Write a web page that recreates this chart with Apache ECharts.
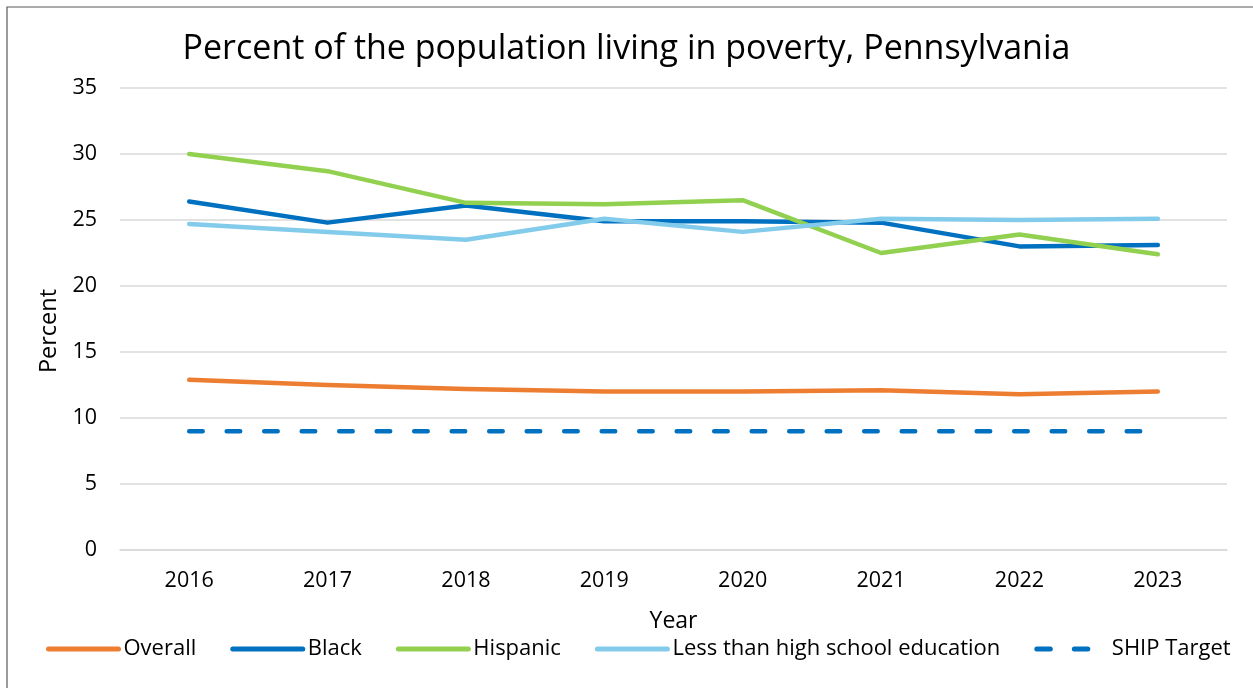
<!DOCTYPE html>
<html>
<head>
<meta charset="utf-8">
<script src="https://cdn.jsdelivr.net/npm/echarts@6/dist/echarts.min.js"></script>
<style>
  html, body { margin: 0; padding: 0; background: #fff; }
  #chart { width: 1253px; height: 688px; }
</style>
</head>
<body>
<div id="chart"></div>
<script>
const years = ['2016', '2017', '2018', '2019', '2020', '2021', '2022', '2023']
const overall = [12.9, 12.5, 12.2, 12.0, 12.0, 12.1, 11.8, 12.0]
const black = [26.4, 24.8, 26.1, 24.9, 24.9, 24.8, 23.0, 23.1]
const hispanic = [30.0, 28.7, 26.3, 26.2, 26.5, 22.5, 23.9, 22.4]
const lessThanHS = [24.7, 24.1, 23.5, 25.1, 24.1, 25.1, 25.0, 25.1]
const shipTarget = [9, 9, 9, 9, 9, 9, 9, 9]

const font = 'Open Sans'

function lineSeries(name, data, color, dashed) {
  return {
    name: name,
    type: 'line',
    data: data,
    symbol: 'none',
    silent: true,
    lineStyle: {
      color: color,
      width: 4.5,
      cap: 'round',
      join: 'round',
      type: dashed ? [13.5, 24] : 'solid'
    },
    itemStyle: { color: color }
  }
}

const chart = echarts.init(document.getElementById('chart'))
chart.setOption({
  animation: false,
  textStyle: { fontFamily: font },
  title: {
    text: 'Percent of the population living in poverty, Pennsylvania',
    left: 'center',
    top: 27,
    textStyle: { fontFamily: font, fontSize: 34, fontWeight: 'normal', color: '#000' }
  },
  graphic: [{
    type: 'rect',
    shape: { x: 7, y: 7, width: 1400, height: 800 },
    style: { fill: 'none', stroke: '#595959', lineWidth: 1.2 }
  }],
  legend: {
    bottom: 23,
    left: 41,
    padding: 5,
    itemWidth: 70,
    itemHeight: 5,
    itemGap: 34,
    lineStyle: { width: 5 },
    itemStyle: { opacity: 0 },
    textStyle: { fontFamily: font, fontSize: 22, color: '#000' },
    data: ['Overall', 'Black', 'Hispanic', 'Less than high school education', 'SHIP Target']
  },
  grid: { left: 120, right: 26, top: 88, bottom: 138 },
  xAxis: {
    type: 'category',
    data: years,
    boundaryGap: true,
    name: 'Year',
    nameLocation: 'middle',
    nameGap: 60,
    nameTextStyle: { fontFamily: font, fontSize: 23, color: '#000' },
    axisLine: { show: true, lineStyle: { color: '#d9d9d9', width: 1.5 } },
    axisTick: { show: false },
    axisLabel: { fontFamily: font, fontSize: 21.5, color: '#000', margin: 20 }
  },
  yAxis: {
    type: 'value',
    min: 0,
    max: 35,
    interval: 5,
    name: 'Percent',
    nameLocation: 'middle',
    nameGap: 53,
    nameTextStyle: { fontFamily: font, fontSize: 23.5, color: '#000', padding: [0, 24, 0, 0] },
    axisLine: { show: false },
    axisTick: { show: false },
    axisLabel: { fontFamily: font, fontSize: 21.5, color: '#000', margin: 23 },
    splitLine: { lineStyle: { color: '#d9d9d9', width: 1.5 } }
  },
  series: [
    lineSeries('Overall', overall, '#ED7D31'),
    lineSeries('Black', black, '#0070C0'),
    lineSeries('Hispanic', hispanic, '#92D050'),
    lineSeries('Less than high school education', lessThanHS, '#83CBEB'),
    lineSeries('SHIP Target', shipTarget, '#0070C0', true)
  ]
})
</script>
</body>
</html>
